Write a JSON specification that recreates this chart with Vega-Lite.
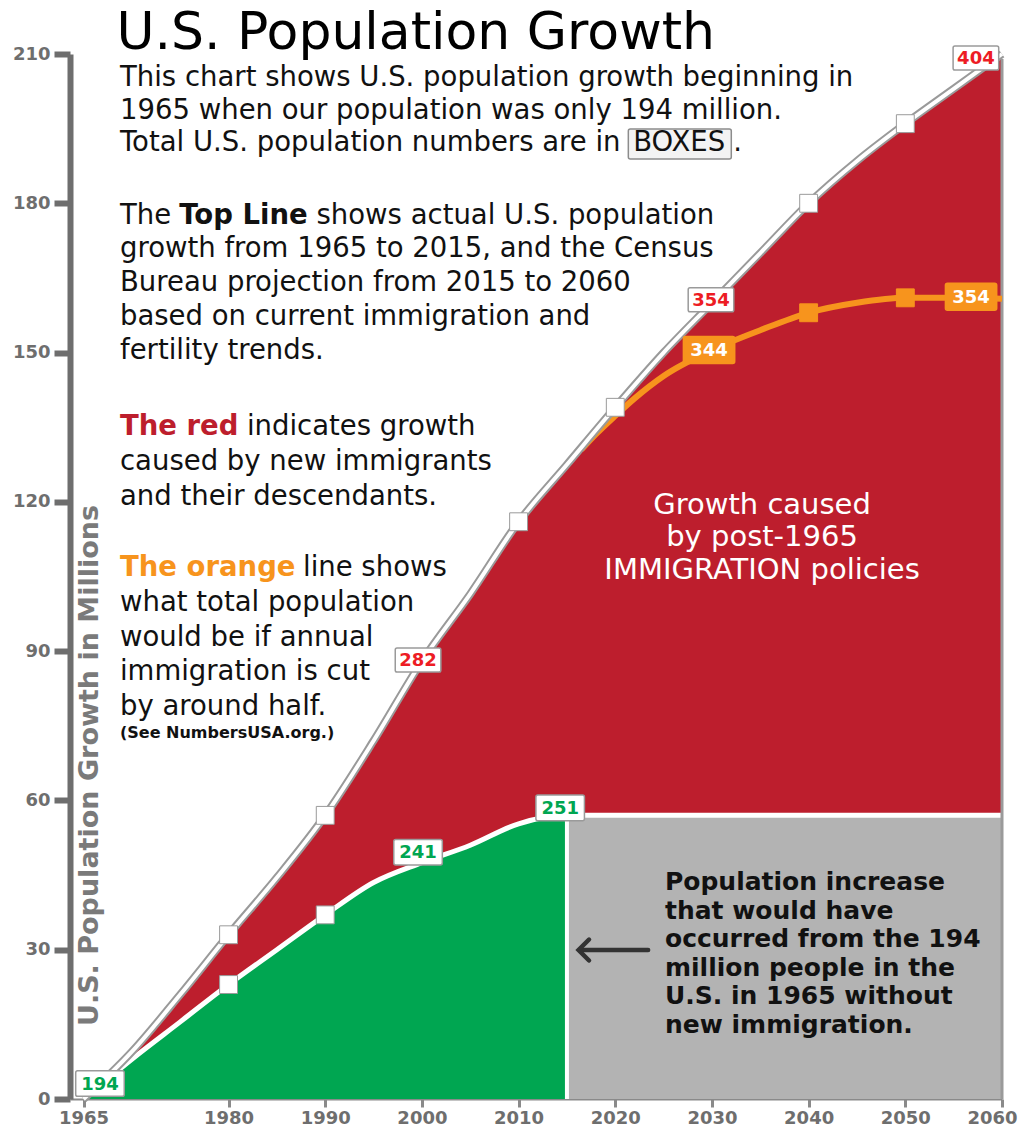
{
  "$schema": "https://vega.github.io/schema/vega-lite/v6.json",
  "width": 932,
  "height": 1045,
  "autosize": {"type": "none"},
  "padding": {"left": 70, "top": 54, "right": 24, "bottom": 31},
  "background": "white",
  "config": {"view": {"stroke": null}, "font": "DejaVu Sans", "text": {"font": "DejaVu Sans"}},
  "datasets": {
    "top": [
      {"year": 1965, "growth": 0}, {"year": 1970, "growth": 9.5}, {"year": 1975, "growth": 21},
      {"year": 1980, "growth": 33}, {"year": 1985, "growth": 44.5}, {"year": 1990, "growth": 57},
      {"year": 1995, "growth": 72}, {"year": 2000, "growth": 88}, {"year": 2005, "growth": 101.5},
      {"year": 2010, "growth": 116}, {"year": 2015, "growth": 127.5}, {"year": 2020, "growth": 139},
      {"year": 2025, "growth": 150}, {"year": 2030, "growth": 160}, {"year": 2035, "growth": 170},
      {"year": 2040, "growth": 180}, {"year": 2045, "growth": 188.5}, {"year": 2050, "growth": 196},
      {"year": 2055, "growth": 203}, {"year": 2060, "growth": 210}
    ],
    "base": [
      {"year": 1965, "growth": 0}, {"year": 1970, "growth": 8}, {"year": 1975, "growth": 15.5},
      {"year": 1980, "growth": 23}, {"year": 1985, "growth": 30}, {"year": 1990, "growth": 37},
      {"year": 1995, "growth": 43.5}, {"year": 2000, "growth": 47.5}, {"year": 2005, "growth": 51},
      {"year": 2010, "growth": 55.3}, {"year": 2015, "growth": 57}, {"year": 2060, "growth": 57}
    ],
    "cut": [
      {"year": 2016.5, "growth": 130.5}, {"year": 2018, "growth": 133.6}, {"year": 2020, "growth": 137.3},
      {"year": 2022, "growth": 140.8}, {"year": 2025, "growth": 145.3}, {"year": 2030, "growth": 150.5},
      {"year": 2035, "growth": 154.5}, {"year": 2040, "growth": 158}, {"year": 2045, "growth": 160},
      {"year": 2050, "growth": 161}, {"year": 2055, "growth": 161}, {"year": 2060, "growth": 160.8}
    ],
    "markers": [
      {"year": 1980, "growth": 33, "series": "top"}, {"year": 1990, "growth": 57, "series": "top"},
      {"year": 2010, "growth": 116, "series": "top"}, {"year": 2020, "growth": 139, "series": "top"},
      {"year": 2040, "growth": 180, "series": "top"}, {"year": 2050, "growth": 196, "series": "top"},
      {"year": 1980, "growth": 23, "series": "base"}, {"year": 1990, "growth": 37, "series": "base"},
      {"year": 2040, "growth": 158, "series": "cut"}, {"year": 2050, "growth": 161, "series": "cut"}
    ],
    "labels": [
      {"year": 1966.7, "growth": 3.1, "label": "194", "series": "base"},
      {"year": 1999.6, "growth": 88.2, "label": "282", "series": "top"},
      {"year": 2029.9, "growth": 160.6, "label": "354", "series": "top"},
      {"year": 2057.3, "growth": 209.2, "label": "404", "series": "top"},
      {"year": 1999.6, "growth": 49.6, "label": "241", "series": "base"},
      {"year": 2014.3, "growth": 58.5, "label": "251", "series": "base"},
      {"year": 2029.7, "growth": 150.5, "label": "344", "series": "cut"},
      {"year": 2056.8, "growth": 161.2, "label": "354", "series": "cut"}
    ]
  },
  "layer": [
    {
      "data": {"name": "top"},
      "mark": {"type": "area", "color": "#BD1E2D", "interpolate": "monotone"},
      "encoding": {
        "x": {
          "field": "year", "type": "quantitative",
          "scale": {"domain": [1963.6, 2060], "nice": false, "zero": false},
          "axis": {
            "title": null, "values": [1965, 1980, 1990, 2000, 2010, 2020, 2030, 2040, 2050, 2060],
            "format": "d", "grid": false, "domainColor": "#8a8a8a", "domainWidth": 2,
            "tickColor": "#8a8a8a", "tickSize": 8, "tickWidth": 3,
            "labelFont": "DejaVu Sans", "labelFontWeight": "bold", "labelFontSize": 18,
            "labelColor": "#6e6e6e", "labelPadding": 2, "labelFlush": false, "labelOverlap": false,
            "labelOffset": {"condition": {"test": "datum.value == 2060", "value": -10}, "value": 0}
          }
        },
        "y": {
          "field": "growth", "type": "quantitative",
          "scale": {"domain": [0, 210], "nice": false},
          "axis": {
            "title": "U.S. Population Growth in Millions",
            "values": [0, 30, 60, 90, 120, 150, 180, 210], "grid": false,
            "domainColor": "#6e6e6e", "domainWidth": 6, "tickColor": "#6e6e6e", "tickSize": 16, "tickWidth": 6,
            "labelFont": "DejaVu Sans", "labelFontWeight": "bold", "labelFontSize": 18, "labelColor": "#6e6e6e",
            "labelPadding": 4,
            "titleX": 19, "titleY": 711, "titleAngle": 270, "titleAlign": "center", "titleBaseline": "middle",
            "titleFont": "DejaVu Sans", "titleFontWeight": "bold", "titleFontSize": 27, "titleColor": "#7a7a7a"
          }
        }
      }
    },
    {"data": {"name": "base"}, "transform": [{"filter": "datum.year >= 2015"}], "mark": {"type": "area", "color": "#B3B3B3"},
     "encoding": {"x": {"field": "year", "type": "quantitative"}, "y": {"field": "growth", "type": "quantitative"}}},
    {"data": {"name": "base"}, "transform": [{"filter": "datum.year <= 2015"}], "mark": {"type": "area", "color": "#00A651", "interpolate": "monotone"},
     "encoding": {"x": {"field": "year", "type": "quantitative"}, "y": {"field": "growth", "type": "quantitative"}}},
    {"data": {"name": "base"}, "mark": {"type": "line", "color": "#ffffff", "strokeWidth": 5, "interpolate": "monotone"},
     "encoding": {"x": {"field": "year", "type": "quantitative"}, "y": {"field": "growth", "type": "quantitative"}}},
    {"data": {"name": "base"}, "transform": [{"filter": "datum.year == 2015"}], "mark": {"type": "rule", "color": "#ffffff", "strokeWidth": 4},
     "encoding": {"x": {"field": "year", "type": "quantitative"}, "y": {"field": "growth", "type": "quantitative"}, "y2": {"datum": 0}}},
    {"data": {"values": [{}]}, "mark": {"type": "rule", "color": "#9a9a9a", "strokeWidth": 3},
     "encoding": {"x": {"datum": 2060}, "y": {"datum": 0}, "y2": {"datum": 209}}},
    {"data": {"name": "cut"}, "mark": {"type": "line", "color": "#F7941D", "strokeWidth": 6, "interpolate": "monotone"},
     "encoding": {"x": {"field": "year", "type": "quantitative"}, "y": {"field": "growth", "type": "quantitative"}}},
    {"data": {"name": "top"}, "mark": {"type": "line", "color": "#9a9a9a", "strokeWidth": 8, "interpolate": "monotone"},
     "encoding": {"x": {"field": "year", "type": "quantitative"}, "y": {"field": "growth", "type": "quantitative"}}},
    {"data": {"name": "top"}, "mark": {"type": "line", "color": "#ffffff", "strokeWidth": 4, "interpolate": "monotone"},
     "encoding": {"x": {"field": "year", "type": "quantitative"}, "y": {"field": "growth", "type": "quantitative"}}},
    {
      "data": {"name": "markers"},
      "mark": {"type": "point", "shape": "square", "filled": true, "size": 320, "strokeWidth": 1, "opacity": 1},
      "encoding": {
        "x": {"field": "year", "type": "quantitative"}, "y": {"field": "growth", "type": "quantitative"},
        "fill": {"field": "series", "type": "nominal", "scale": {"domain": ["top", "base", "cut"], "range": ["#ffffff", "#ffffff", "#F7941D"]}, "legend": null},
        "stroke": {"field": "series", "type": "nominal", "scale": {"domain": ["top", "base", "cut"], "range": ["#9a9a9a", "#9a9a9a", "#F7941D"]}, "legend": null}
      }
    },
    {
      "data": {"name": "labels"},
      "mark": {"type": "point", "shape": "M-1.75,-1H1.75Q1.9,-1 1.9,-0.85V0.85Q1.9,1 1.75,1H-1.75Q-1.9,1 -1.9,0.85V-0.85Q-1.9,-1 -1.75,-1Z", "filled": true, "strokeWidth": 1.5, "opacity": 1},
      "encoding": {
        "x": {"field": "year", "type": "quantitative"}, "y": {"field": "growth", "type": "quantitative"},
        "fill": {"field": "series", "type": "nominal", "scale": {"domain": ["top", "base", "cut"], "range": ["#ffffff", "#ffffff", "#F7941D"]}, "legend": null},
        "stroke": {"field": "series", "type": "nominal", "scale": {"domain": ["top", "base", "cut"], "range": ["#9a9a9a", "#9a9a9a", "#F7941D"]}, "legend": null},
        "size": {"field": "series", "type": "ordinal", "scale": {"domain": ["top", "base", "cut"], "range": [576, 729, 676]}, "legend": null}
      }
    },
    {
      "data": {"name": "labels"},
      "mark": {"type": "text", "font": "DejaVu Sans", "fontWeight": "bold", "fontSize": 18, "align": "center", "baseline": "middle", "dy": 1},
      "encoding": {
        "x": {"field": "year", "type": "quantitative"}, "y": {"field": "growth", "type": "quantitative"},
        "text": {"field": "label", "type": "nominal"},
        "color": {"field": "series", "type": "nominal", "scale": {"domain": ["top", "base", "cut"], "range": ["#ED1C24", "#00A651", "#ffffff"]}, "legend": null}
      }
    },
    {"data": {"values": [{}]}, "mark": {"type": "text", "text": "U.S. Population Growth", "fontSize": 52, "color": "#000000", "align": "left", "baseline": "alphabetic"}, "encoding": {"x": {"datum": 1968.4}, "y": {"datum": 211.1}}},
    {"data": {"values": [{}]}, "mark": {"type": "text", "text": ["This chart shows U.S. population growth beginning in", "1965 when our population was only 194 million."], "fontSize": 27.5, "lineHeight": 33.5, "color": "#111111", "align": "left", "baseline": "alphabetic"}, "encoding": {"x": {"datum": 1968.77}, "y": {"datum": 203.6}}},
    {"data": {"values": [{}]}, "mark": {"type": "text", "text": "Total U.S. population numbers are in", "fontSize": 27.5, "color": "#111111", "align": "left", "baseline": "alphabetic"}, "encoding": {"x": {"datum": 1968.77}, "y": {"datum": 190.51}}},
    {"data": {"values": [{}]}, "mark": {"type": "rect", "fill": "#f3f3f3", "stroke": "#8c8c8c", "strokeWidth": 1.5, "cornerRadius": 2}, "encoding": {"x": {"datum": 2021.35}, "x2": {"datum": 2032.0}, "y": {"datum": 194.93}, "y2": {"datum": 188.9}}},
    {"data": {"values": [{}]}, "mark": {"type": "text", "text": "BOXES", "fontSize": 27.5, "color": "#111111", "align": "left", "baseline": "alphabetic"}, "encoding": {"x": {"datum": 2021.85}, "y": {"datum": 190.51}}},
    {"data": {"values": [{}]}, "mark": {"type": "text", "text": ".", "fontSize": 27.5, "color": "#111111", "align": "left", "baseline": "alphabetic"}, "encoding": {"x": {"datum": 2032.2}, "y": {"datum": 190.51}}},
    {"data": {"values": [{}]}, "mark": {"type": "text", "text": "The", "fontSize": 27.5, "color": "#111111", "align": "left", "baseline": "alphabetic"}, "encoding": {"x": {"datum": 1968.77}, "y": {"datum": 175.84}}},
    {"data": {"values": [{}]}, "mark": {"type": "text", "text": "Top Line", "fontSize": 27.5, "fontWeight": "bold", "color": "#111111", "align": "left", "baseline": "alphabetic"}, "encoding": {"x": {"datum": 1974.9}, "y": {"datum": 175.84}}},
    {"data": {"values": [{}]}, "mark": {"type": "text", "text": "shows actual U.S. population", "fontSize": 27.5, "color": "#111111", "align": "left", "baseline": "alphabetic"}, "encoding": {"x": {"datum": 1989.1}, "y": {"datum": 175.84}}},
    {"data": {"values": [{}]}, "mark": {"type": "text", "text": ["growth from 1965 to 2015, and the Census", "Bureau projection from 2015 to 2060", "based on current immigration and", "fertility trends."], "fontSize": 27.5, "lineHeight": 34, "color": "#111111", "align": "left", "baseline": "alphabetic"}, "encoding": {"x": {"datum": 1968.77}, "y": {"datum": 169.2}}},
    {"data": {"values": [{}]}, "mark": {"type": "text", "text": "The red", "fontSize": 27.5, "fontWeight": "bold", "color": "#BD1E2D", "align": "left", "baseline": "alphabetic"}, "encoding": {"x": {"datum": 1968.77}, "y": {"datum": 133.44}}},
    {"data": {"values": [{}]}, "mark": {"type": "text", "text": "indicates growth", "fontSize": 27.5, "color": "#111111", "align": "left", "baseline": "alphabetic"}, "encoding": {"x": {"datum": 1981.9}, "y": {"datum": 133.44}}},
    {"data": {"values": [{}]}, "mark": {"type": "text", "text": ["caused by new immigrants", "and their descendants."], "fontSize": 27.5, "lineHeight": 35, "color": "#111111", "align": "left", "baseline": "alphabetic"}, "encoding": {"x": {"datum": 1968.77}, "y": {"datum": 126.4}}},
    {"data": {"values": [{}]}, "mark": {"type": "text", "text": "The orange", "fontSize": 27.5, "fontWeight": "bold", "color": "#F7941D", "align": "left", "baseline": "alphabetic"}, "encoding": {"x": {"datum": 1968.77}, "y": {"datum": 105.1}}},
    {"data": {"values": [{}]}, "mark": {"type": "text", "text": "line shows", "fontSize": 27.5, "color": "#111111", "align": "left", "baseline": "alphabetic"}, "encoding": {"x": {"datum": 1987.7}, "y": {"datum": 105.1}}},
    {"data": {"values": [{}]}, "mark": {"type": "text", "text": ["what total population", "would be if annual", "immigration is cut", "by around half."], "fontSize": 27.5, "lineHeight": 34.7, "color": "#111111", "align": "left", "baseline": "alphabetic"}, "encoding": {"x": {"datum": 1968.77}, "y": {"datum": 98.07}}},
    {"data": {"values": [{}]}, "mark": {"type": "text", "text": "(See NumbersUSA.org.)", "fontSize": 16, "fontWeight": "bold", "color": "#111111", "align": "left", "baseline": "alphabetic"}, "encoding": {"x": {"datum": 1968.77}, "y": {"datum": 72.55}}},
    {"data": {"values": [{}]}, "mark": {"type": "text", "text": ["Growth caused", "by post-1965", "IMMIGRATION policies"], "fontSize": 29, "lineHeight": 32.5, "color": "#ffffff", "align": "center", "baseline": "middle"}, "encoding": {"x": {"datum": 2035.18}, "y": {"datum": 119.37}}},
    {"data": {"values": [{}]}, "mark": {"type": "text", "text": ["Population increase", "that would have", "occurred from the 194", "million people in the", "U.S. in 1965 without", "new immigration."], "fontSize": 25, "fontWeight": "bold", "lineHeight": 28.6, "color": "#111111", "align": "left", "baseline": "middle"}, "encoding": {"x": {"datum": 2025.14}, "y": {"datum": 43.61}}},
    {"data": {"values": [{}]}, "mark": {"type": "rule", "color": "#333333", "strokeWidth": 4.5, "strokeCap": "round"}, "encoding": {"x": {"datum": 2016.6}, "x2": {"datum": 2023.4}, "y": {"datum": 29.94}}},
    {"data": {"values": [{}]}, "mark": {"type": "point", "shape": "M1,-1L0,0L1,1", "size": 440, "filled": false, "stroke": "#333333", "strokeWidth": 4.5, "strokeCap": "round", "opacity": 1}, "encoding": {"x": {"datum": 2016.2}, "y": {"datum": 29.94}}}
  ]
}
